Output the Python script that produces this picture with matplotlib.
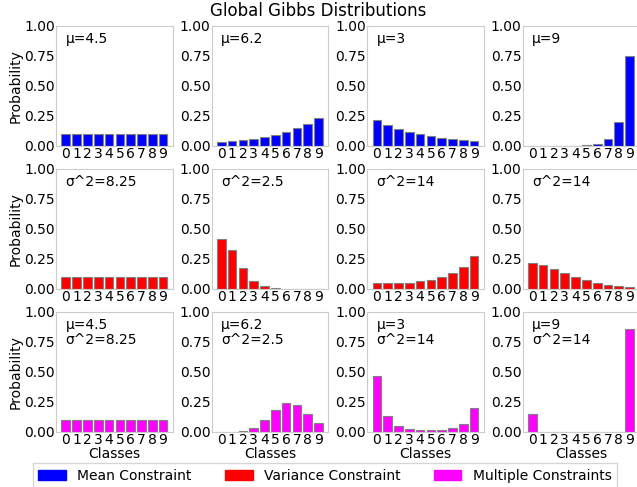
import numpy as np
import matplotlib.pyplot as plt
from matplotlib.patches import Patch

classes = np.arange(10)

mean_labels = ["μ=4.5", "μ=6.2", "μ=3", "μ=9"]
var_labels = ["σ^2=8.25", "σ^2=2.5", "σ^2=14", "σ^2=14"]
multi_labels = ["μ=4.5\nσ^2=8.25", "μ=6.2\nσ^2=2.5", "μ=3\nσ^2=14", "μ=9\nσ^2=14"]

mean_probs = [
    [0.1] * 10,
    [0.031, 0.039, 0.048, 0.061, 0.076, 0.095, 0.119, 0.148, 0.185, 0.229],
    [0.213, 0.176, 0.145, 0.120, 0.099, 0.082, 0.068, 0.057, 0.048, 0.040],
    [0.0001, 0.0002, 0.0004, 0.0008, 0.002, 0.005, 0.017, 0.057, 0.200, 0.747],
]
var_probs = [
    [0.1] * 10,
    [0.417, 0.325, 0.178, 0.069, 0.022, 0.005, 0.001, 0.0003, 0.0001, 0.0001],
    [0.047, 0.047, 0.050, 0.053, 0.064, 0.078, 0.100, 0.130, 0.186, 0.275],
    [0.217, 0.197, 0.169, 0.136, 0.103, 0.075, 0.050, 0.033, 0.022, 0.017],
]
multi_probs = [
    [0.1] * 10,
    [0.001, 0.003, 0.010, 0.037, 0.098, 0.180, 0.239, 0.228, 0.152, 0.073],
    [0.467, 0.132, 0.051, 0.028, 0.020, 0.017, 0.020, 0.031, 0.068, 0.199],
    [0.150, 0.0005, 0.0002, 0.0001, 0.0001, 0.0001, 0.0001, 0.0001, 0.0002, 0.860],
]

rows = [
    (mean_probs, mean_labels, "blue"),
    (var_probs, var_labels, "red"),
    (multi_probs, multi_labels, "magenta"),
]

plt.rcParams["font.size"] = 10
fig, axes = plt.subplots(3, 4, figsize=(6.37, 4.87), dpi=100)
fig.subplots_adjust(left=0.0882, right=1.0035, top=0.947, bottom=0.113,
                    wspace=0.335, hspace=0.19)

for r, (probs, labels, color) in enumerate(rows):
    for c in range(4):
        ax = axes[r, c]
        ax.bar(classes, probs[c], color=color, edgecolor="grey", linewidth=0.8)
        ax.set_ylim(0, 1)
        ax.set_yticks([0, 0.25, 0.5, 0.75, 1.0])
        ax.set_yticklabels(["0.00", "0.25", "0.50", "0.75", "1.00"])
        ax.set_xticks(classes)
        ax.tick_params(length=0, pad=1)
        for s in ax.spines.values():
            s.set_color("#cccccc")
        ax.text(0.08, 0.95, labels[c], transform=ax.transAxes, va="top",
                ha="left", linespacing=1.15)
        if c == 0:
            ax.set_ylabel("Probability", labelpad=1)
        if r == 2:
            ax.set_xlabel("Classes", labelpad=0)

fig.suptitle("Global Gibbs Distributions", fontsize=12, y=1 - 16 / 487,
             va="baseline")

handles = [Patch(color="blue"), Patch(color="red"), Patch(color="magenta")]
leg = fig.legend(handles, ["Mean Constraint", "Variance Constraint", "Multiple Constraints"],
                 loc="upper center", bbox_to_anchor=(0.51, 1 - 463 / 487), ncol=3,
                 frameon=True, columnspacing=2.4, fancybox=False,
                 borderaxespad=0)
leg.get_frame().set_edgecolor("#cccccc")

fig.savefig("out.png", dpi=100)
